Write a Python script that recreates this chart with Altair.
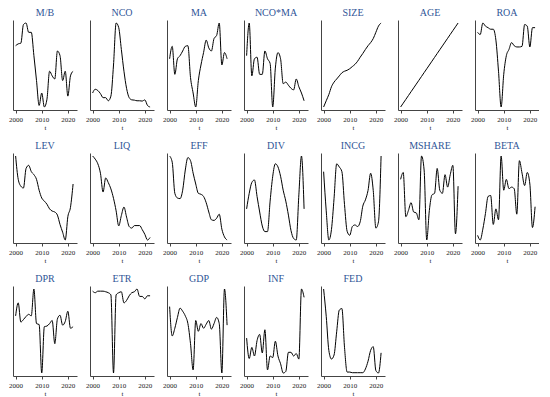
import altair as alt
import pandas as pd

years = [2000, 2001, 2002, 2003, 2004, 2005, 2006, 2007, 2008, 2009, 2010, 2011,
         2012, 2013, 2014, 2015, 2016, 2017, 2018, 2019, 2020, 2021, 2022]

order = ["M/B", "NCO", "MA", "NCO*MA", "SIZE", "AGE", "ROA",
         "LEV", "LIQ", "EFF", "DIV", "INCG", "MSHARE", "BETA",
         "DPR", "ETR", "GDP", "INF", "FED"]

mb = [197, 203, 205, 265, 270, 240, 240, 165, 85, 5, 45, 0, 25, 115, 100, 90, 180, 165, 85, 115, 35, 100, 115]
nco = [48, 60, 56, 46, 33, 33, 23, 38, 138, 273, 258, 188, 118, 63, 33, 26, 25, 23, 23, 22, 26, 8, 3]
ma = [155, 195, 105, 155, 165, 180, 195, 197, 95, 45, 0, 85, 135, 175, 215, 190, 180, 220, 230, 270, 135, 175, 155]
nco_ma = [165, 270, 100, 155, 160, 105, 105, 180, 155, 140, 0, 125, 175, 155, 75, 80, 70, 60, 55, 90, 65, 45, 20]
size = [0, 20, 40, 65, 80, 90, 100, 110, 115, 118, 123, 130, 137, 147, 160, 172, 185, 197, 207, 220, 240, 260, 270]
age = [1, 2, 3, 4, 5, 6, 7, 8, 9, 10, 11, 12, 13, 14, 15, 16, 17, 18, 19, 20, 21, 22, 23]
roa = [240, 233, 270, 260, 255, 250, 250, 215, 115, 0, 105, 165, 185, 207, 197, 193, 193, 195, 265, 260, 193, 255, 255]
lev = [270, 195, 173, 167, 230, 240, 220, 210, 195, 160, 135, 125, 115, 100, 93, 90, 80, 50, 25, 0, 75, 105, 180]
liq = [270, 260, 245, 215, 155, 200, 185, 165, 135, 95, 47, 80, 107, 75, 45, 40, 48, 48, 48, 35, 20, 2, 10]
eff = [270, 250, 150, 135, 133, 160, 225, 265, 255, 215, 180, 150, 147, 140, 120, 90, 65, 63, 70, 83, 35, 10, 0]
div = [100, 150, 185, 193, 140, 90, 45, 27, 27, 125, 205, 245, 235, 205, 160, 125, 80, 30, 5, 0, 145, 270, 100]
incg = [220, 95, 2, 35, 135, 245, 235, 220, 115, 30, 17, 45, 50, 45, 60, 110, 130, 160, 215, 160, 40, 60, 270]
mshare = [195, 217, 75, 95, 120, 90, 87, 65, 270, 225, 0, 95, 145, 150, 230, 160, 150, 210, 170, 210, 240, 20, 173]
beta = [15, 0, 35, 85, 140, 143, 50, 100, 65, 270, 160, 195, 165, 170, 165, 83, 255, 215, 175, 217, 180, 40, 107]
dpr = [185, 227, 165, 173, 183, 190, 185, 272, 160, 157, 0, 150, 152, 160, 170, 95, 175, 187, 155, 167, 200, 145, 150]
etr = [265, 260, 265, 265, 265, 263, 260, 253, 0, 253, 260, 263, 227, 235, 250, 260, 263, 272, 248, 248, 240, 250, 250]
gdp = [215, 120, 145, 180, 210, 200, 185, 160, 95, 10, 170, 135, 160, 145, 158, 170, 142, 160, 180, 160, 0, 272, 155]
inf = [113, 47, 83, 55, 105, 125, 65, 140, 10, 55, 50, 103, 55, 30, 0, 5, 67, 67, 55, 63, 45, 272, 245]
fed = [273, 185, 75, 47, 60, 135, 205, 210, 85, 5, 5, 3, 3, 3, 3, 3, 15, 40, 75, 87, 10, 2, 67]

series = [mb, nco, ma, nco_ma, size, age, roa, lev, liq, eff, div, incg,
          mshare, beta, dpr, etr, gdp, inf, fed]

rows = []
for name, vals in zip(order, series):
    for yr, v in zip(years, vals):
        rows.append({"var": name, "t": yr, "value": v})
df = pd.DataFrame(rows)

FONT = "Liberation Serif"

base = alt.Chart(df).mark_line(color="black", strokeWidth=1, interpolate="monotone").encode(
    x=alt.X("t:Q",
            scale=alt.Scale(domain=[1999, 2023.5], nice=False, zero=False),
            axis=alt.Axis(values=[2000, 2010, 2020], format="d", title="t",
                          grid=False, tickSize=3, labelFontSize=7, titleFontSize=7,
                          titleFontWeight="normal", labelFont=FONT, titleFont=FONT,
                          titlePadding=1, labelPadding=2, domainColor="#444",
                          tickColor="#444", labelColor="#222", titleColor="#222")),
    y=alt.Y("value:Q",
            scale=alt.Scale(zero=False, nice=False, padding=3),
            axis=alt.Axis(title=None, labels=False, ticks=False, grid=False,
                          domainColor="#444")),
).properties(width=64, height=90)

chart = base.facet(
    facet=alt.Facet("var:N", sort=order, title=None,
                    header=alt.Header(labelFont=FONT, labelFontSize=10,
                                      labelColor="#2f5597", labelPadding=2)),
    columns=7,
    spacing={"column": 13, "row": 43},
    bounds="flush",
).resolve_scale(y="independent").resolve_axis(x="independent", y="independent").properties(
    padding={"left": 0, "top": 0, "right": 0, "bottom": 0}
).configure_view(strokeOpacity=0)

chart.save("out.html", embed_options={"renderer": "svg", "actions": False})
